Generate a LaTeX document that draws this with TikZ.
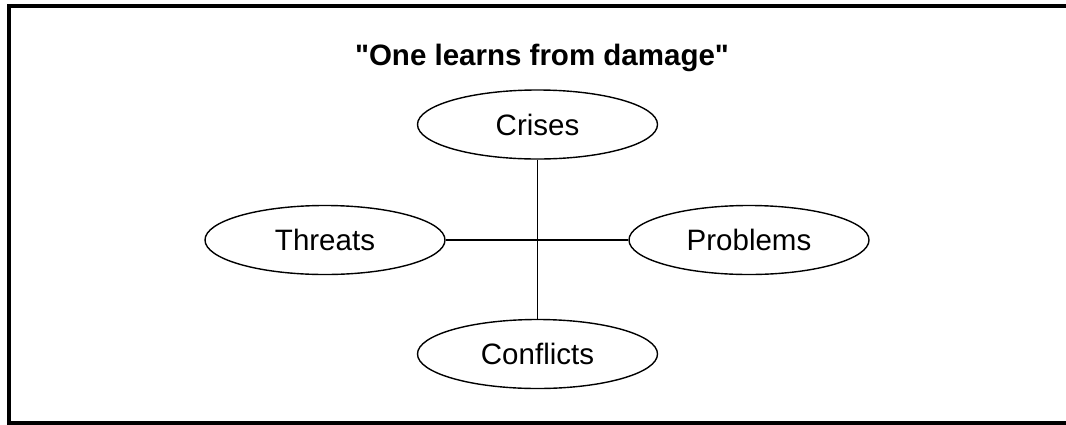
\documentclass[tikz,border=0pt]{standalone}
\usepackage{fontspec}
\setmainfont{Liberation Sans}
\newfontfamily\plainsans{Liberation Sans}
\usetikzlibrary{shapes.geometric}
\begin{document}
\begin{tikzpicture}[x=1pt,y=-1pt,
  oval/.style={ellipse,draw=black,line width=1.4pt,minimum width=240pt,minimum height=69pt,inner sep=0pt,font=\plainsans\fontsize{29.5}{31}\selectfont},
  link/.style={draw=black,line width=1.4pt},
  frame/.style={draw=black,line width=4pt}]
\useasboundingbox (0,0) rectangle (1066,424);
\begin{scope}
\clip (0,0) rectangle (1066,424);
\draw[frame] (1080,6) -- (9,6) -- (9,423) -- (1080,423);
\end{scope}
\node[anchor=base,font=\plainsans\bfseries\fontsize{29.5}{31}\selectfont] (title) at (542,65) {"One learns from damage"};
\node[oval] (crises) at (537.5,124.5) {Crises};
\node[oval] (threats) at (325,240) {Threats};
\node[oval] (problems) at (749,240) {Problems};
\node[oval] (conflicts) at (537.5,354) {Conflicts};
\draw[link] (crises.south) -- (conflicts.north);
\draw[link] (threats.east) -- (problems.west);
\end{tikzpicture}
\end{document}
